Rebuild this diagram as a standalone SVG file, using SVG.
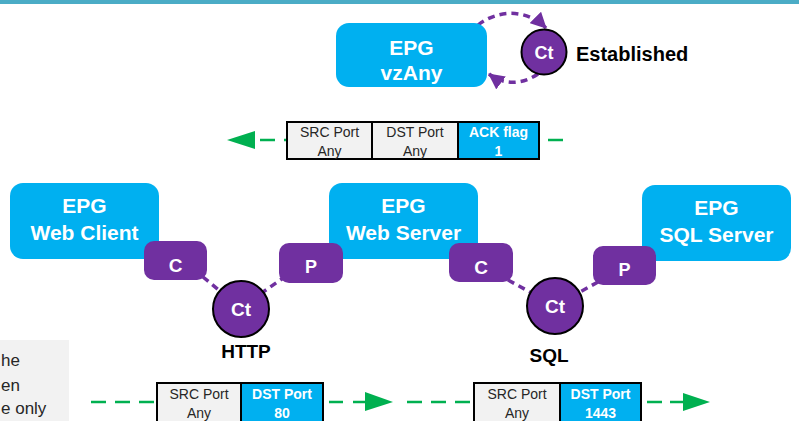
<svg xmlns="http://www.w3.org/2000/svg" width="799" height="421" viewBox="0 0 799 421">
<defs>
<style>
.epg{fill:#00B0F0}
.epgt{font-family:"Liberation Sans",Arial,sans-serif;font-weight:bold;font-size:21px;fill:#fff;text-anchor:middle}
.badge{fill:#7030A0}
.bt{font-family:"Liberation Sans",Arial,sans-serif;font-weight:bold;font-size:18px;fill:#fff;text-anchor:middle}
.ct{fill:#7030A0;stroke:#000;stroke-width:2}
.ctt{font-family:"Liberation Sans",Arial,sans-serif;font-weight:bold;font-size:19px;fill:#fff;text-anchor:middle}
.lbl{font-family:"Liberation Sans",Arial,sans-serif;font-weight:bold;font-size:19px;fill:#000}
.pd{fill:none;stroke:#7030A0;stroke-width:3.5;stroke-dasharray:7 5}
.gd{fill:none;stroke:#00B050;stroke-width:2.5;stroke-dasharray:15 9}
.ga{fill:#00B050}
.cg{fill:#F2F2F2;stroke:#000;stroke-width:2}
.cb{fill:#00B0F0;stroke:#000;stroke-width:2}
.tg{font-family:"Liberation Sans",Arial,sans-serif;font-size:14px;fill:#262626;text-anchor:middle}
.tb{font-family:"Liberation Sans",Arial,sans-serif;font-size:14px;font-weight:bold;fill:#fff;text-anchor:middle}
.note{font-family:"Liberation Sans",Arial,sans-serif;font-size:17px;fill:#262626}
</style>
<marker id="pa" markerUnits="userSpaceOnUse" markerWidth="18" markerHeight="16" refX="15" refY="8" orient="auto">
<path d="M0,0 L16,8 L0,16 Z" fill="#7030A0"/>
</marker>
</defs>
<rect x="0" y="0" width="799" height="4" fill="#4BACC6"/>

<g id="note">
<rect x="-2" y="340" width="71" height="90" fill="#F2F2F2"/>
<text class="note" x="1" y="366">he</text>
<text class="note" x="1" y="391">en</text>
<text class="note" x="1" y="414">e only</text>
</g>

<g id="connectors">
<path class="pd" d="M478,25 C497,10 526,8 546,28" marker-end="url(#pa)"/>
<path class="pd" d="M538,74 C523,84 505,86 489,74" marker-end="url(#pa)"/>
<line class="pd" x1="203" y1="277" x2="220" y2="291"/>
<line class="pd" x1="286" y1="276" x2="263" y2="292"/>
<line class="pd" x1="508" y1="280" x2="530" y2="292"/>
<line class="pd" x1="598" y1="282" x2="580" y2="292"/>
<line class="gd" x1="260" y1="140" x2="287" y2="140"/>
<line class="gd" x1="548" y1="140" x2="563" y2="140"/>
<polygon class="ga" points="227,140 255,131 255,149"/>
<line class="gd" x1="91" y1="402" x2="157" y2="402"/>
<line class="gd" x1="329" y1="402" x2="365" y2="402" style="stroke-dasharray:14 10"/>
<polygon class="ga" points="393,402 365,392 365,411"/>
<line class="gd" x1="407" y1="402" x2="474" y2="402"/>
<line class="gd" x1="647" y1="402" x2="683" y2="402" style="stroke-dasharray:15 8"/>
<polygon class="ga" points="710,402 683,393 683,411"/>
</g>

<g id="epg-vzany">
<rect class="epg" x="336" y="23" width="151" height="64" rx="13"/>
<text class="epgt" x="411.5" y="55">EPG</text>
<text class="epgt" x="411.5" y="80">vzAny</text>
</g>
<g id="ct-established">
<circle class="ct" cx="544" cy="52" r="22.5"/>
<text class="ctt" x="544" y="59" style="font-size:18px">Ct</text>
<text class="lbl" x="576" y="61" style="font-size:20px">Established</text>
</g>

<g id="table-ack">
<rect class="cg" x="287" y="122" width="85" height="37"/>
<rect class="cg" x="372" y="122" width="86" height="37"/>
<rect class="cb" x="458" y="122" width="81" height="37"/>
<text class="tg" x="329.5" y="137">SRC Port</text>
<text class="tg" x="329.5" y="156">Any</text>
<text class="tg" x="415" y="137">DST Port</text>
<text class="tg" x="415" y="156">Any</text>
<text class="tb" x="498.5" y="137">ACK flag</text>
<text class="tb" x="498.5" y="156">1</text>
</g>

<g id="epg-webclient">
<rect class="epg" x="10" y="183" width="149" height="76" rx="13"/>
<text class="epgt" x="84.5" y="213">EPG</text>
<text class="epgt" x="84.5" y="240">Web Client</text>
</g>
<g id="epg-webserver">
<rect class="epg" x="329" y="183" width="149" height="76" rx="13"/>
<text class="epgt" x="403.5" y="213">EPG</text>
<text class="epgt" x="403.5" y="240">Web Server</text>
</g>
<g id="epg-sqlserver">
<rect class="epg" x="642" y="185" width="149" height="76" rx="13"/>
<text class="epgt" x="716.5" y="215">EPG</text>
<text class="epgt" x="716.5" y="242">SQL Server</text>
</g>

<g id="badge-c-webclient">
<rect class="badge" x="144" y="241" width="63" height="39" rx="10"/>
<text class="bt" x="175.5" y="272" style="font-size:19px">C</text>
</g>
<g id="badge-p-webserver">
<rect class="badge" x="279" y="243" width="64" height="40" rx="10"/>
<text class="bt" x="311" y="273">P</text>
</g>
<g id="badge-c-webserver">
<rect class="badge" x="449" y="243" width="64" height="39" rx="10"/>
<text class="bt" x="481" y="274" style="font-size:19px">C</text>
</g>
<g id="badge-p-sqlserver">
<rect class="badge" x="593" y="246" width="63" height="39" rx="10"/>
<text class="bt" x="624.5" y="276">P</text>
</g>

<g id="ct-http">
<circle class="ct" cx="241" cy="309" r="28"/>
<text class="ctt" x="241" y="316">Ct</text>
<text class="lbl" x="246" y="358" text-anchor="middle">HTTP</text>
</g>
<g id="ct-sql">
<circle class="ct" cx="555" cy="306" r="28"/>
<text class="ctt" x="555" y="313">Ct</text>
<text class="lbl" x="549" y="362" text-anchor="middle">SQL</text>
</g>

<g id="table-http">
<rect class="cg" x="157" y="383" width="84" height="50"/>
<rect class="cb" x="241" y="383" width="82" height="50"/>
<text class="tg" x="199" y="399">SRC Port</text>
<text class="tg" x="199" y="418">Any</text>
<text class="tb" x="282" y="399">DST Port</text>
<text class="tb" x="282" y="418">80</text>
</g>
<g id="table-sql">
<rect class="cg" x="474" y="383" width="86" height="50"/>
<rect class="cb" x="560" y="383" width="81" height="50"/>
<text class="tg" x="517" y="399">SRC Port</text>
<text class="tg" x="517" y="418">Any</text>
<text class="tb" x="600.5" y="399">DST Port</text>
<text class="tb" x="600.5" y="418">1443</text>
</g>
</svg>
